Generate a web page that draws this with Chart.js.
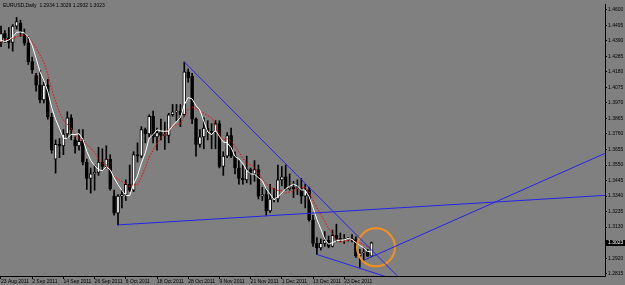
<!DOCTYPE html>
<html lang="en">
<head>
<meta charset="UTF-8">
<title>EURUSD Daily</title>
<script src="https://cdn.jsdelivr.net/npm/chart.js@4"></script>
<style>
    html, body { margin: 0; padding: 0; background: #808080; }
    #wrap { width: 625px; height: 285px; }
</style>
</head>
<body>
<div id="wrap"><canvas id="chart" width="625" height="285"></canvas></div>
<script>
// daily bars, 23 Aug 2011 .. 3 Jan 2012 (bar index = x value)
const open  = [1.4380,1.4440,1.4410,1.4380,1.4490,1.4510,1.4440,1.4375,1.4250,1.4155,
               1.4090,1.3990,1.4090,1.3875,1.3590,1.3690,1.3680,1.3760,1.3870,1.3720,
               1.3680,1.3710,1.3570,1.3460,1.3490,1.3500,1.3570,1.3540,1.3590,1.3340,
               1.3225,1.3340,1.3350,1.3420,1.3380,1.3620,1.3610,1.3790,1.3760,1.3880,
               1.3740,1.3770,1.3750,1.3750,1.3890,1.3910,1.3915,1.3890,1.4180,1.4150,
               1.3860,1.3690,1.3740,1.3800,1.3780,1.3770,1.3830,1.3540,1.3610,1.3750,
               1.3610,1.3530,1.3460,1.3450,1.3520,1.3490,1.3520,1.3340,1.3350,1.3240,
               1.3320,1.3320,1.3450,1.3470,1.3390,1.3400,1.3390,1.3390,1.3340,1.3380,
               1.3180,1.3020,1.2990,1.3020,1.3040,1.3000,1.3075,1.3050,1.3045,1.3045,
               1.3050,1.3045,1.2935,1.2955,1.2960,1.2934];
const high  = [1.4490,1.4460,1.4480,1.4500,1.4548,1.4530,1.4470,1.4420,1.4280,1.4170,
               1.4190,1.4110,1.4130,1.3900,1.3720,1.3730,1.3790,1.3910,1.3890,1.3740,
               1.3790,1.3790,1.3590,1.3530,1.3550,1.3670,1.3660,1.3680,1.3620,1.3380,
               1.3350,1.3380,1.3450,1.3550,1.3640,1.3700,1.3810,1.3800,1.3890,1.3915,
               1.3800,1.3860,1.3840,1.3900,1.3960,1.3960,1.3960,1.4247,1.4200,1.4170,
               1.3870,1.3790,1.3870,1.3850,1.3830,1.3850,1.3850,1.3640,1.3770,1.3800,
               1.3640,1.3580,1.3550,1.3610,1.3530,1.3580,1.3550,1.3400,1.3390,1.3420,
               1.3390,1.3550,1.3540,1.3550,1.3490,1.3440,1.3450,1.3460,1.3420,1.3400,
               1.3210,1.3060,1.3050,1.3100,1.3070,1.3110,1.3150,1.3090,1.3080,1.3060,
               1.3080,1.3065,1.2980,1.2990,1.2980,1.3029];
const low   = [1.4350,1.4380,1.4340,1.4320,1.4470,1.4420,1.4360,1.4230,1.4170,1.4050,
               1.3970,1.3970,1.3860,1.3630,1.3495,1.3600,1.3620,1.3730,1.3720,1.3630,
               1.3650,1.3550,1.3385,1.3360,1.3380,1.3480,1.3520,1.3530,1.3380,1.3210,
               1.3145,1.3260,1.3310,1.3370,1.3370,1.3570,1.3600,1.3700,1.3740,1.3700,
               1.3650,1.3720,1.3655,1.3700,1.3880,1.3850,1.3810,1.3880,1.4110,1.3830,
               1.3610,1.3670,1.3660,1.3720,1.3660,1.3660,1.3530,1.3480,1.3600,1.3600,
               1.3490,1.3420,1.3420,1.3430,1.3420,1.3440,1.3320,1.3310,1.3210,1.3230,
               1.3300,1.3300,1.3410,1.3380,1.3380,1.3330,1.3350,1.3290,1.3260,1.3170,
               1.3000,1.2945,1.2975,1.3000,1.2990,1.2995,1.3030,1.3030,1.3020,1.3035,
               1.3030,1.2925,1.2858,1.2905,1.2930,1.2932];
const close = [1.4440,1.4410,1.4380,1.4490,1.4520,1.4450,1.4375,1.4250,1.4195,1.4090,
               1.3990,1.4090,1.3875,1.3650,1.3690,1.3680,1.3760,1.3870,1.3790,1.3680,
               1.3710,1.3570,1.3460,1.3490,1.3500,1.3570,1.3540,1.3590,1.3390,1.3225,
               1.3340,1.3350,1.3420,1.3380,1.3620,1.3610,1.3790,1.3760,1.3880,1.3740,
               1.3770,1.3750,1.3750,1.3890,1.3910,1.3915,1.3890,1.4180,1.4140,1.3860,
               1.3690,1.3740,1.3800,1.3780,1.3770,1.3830,1.3540,1.3610,1.3750,1.3610,
               1.3530,1.3460,1.3450,1.3520,1.3490,1.3520,1.3340,1.3350,1.3240,1.3320,
               1.3320,1.3450,1.3470,1.3390,1.3400,1.3390,1.3390,1.3340,1.3380,1.3180,
               1.3020,1.2990,1.3020,1.3040,1.3000,1.3075,1.3050,1.3045,1.3045,1.3050,
               1.3045,1.2935,1.2955,1.2960,1.2934,1.3023];
// closes of the bars just before the window, for the moving averages
const warmupClose = [1.4240,1.4430,1.4400,1.4450,1.4330,1.4390,1.4360];

const timeTickIndex  = [0, 8, 16, 24, 32, 40, 48, 56, 64, 72, 80, 88];
const timeTickLabels = ['23 Aug 2011','2 Sep 2011','14 Sep 2011','26 Sep 2011','6 Oct 2011','18 Oct 2011',
                        '28 Oct 2011','9 Nov 2011','21 Nov 2011','1 Dec 2011','13 Dec 2011','23 Dec 2011'];
const priceTicks = [1.4600,1.4495,1.4390,1.4285,1.4180,1.4075,1.3970,1.3865,1.3760,
                    1.3655,1.3550,1.3445,1.3340,1.3235,1.3130,1.3025,1.2920,1.2815];

// drawn objects: trend lines (bar index, price) and the ellipse centre
const trendStart = [[47, 1.4247], [30, 1.3145], [81, 1.2945], [93, 1.2905]];
const trendEnd   = [[102, 1.2790], [160, 1.3353], [100, 1.2784], [160, 1.3689]];
const ellipseCenter = [96.15, 1.2993];

const title = 'EURUSD,Daily  1.2934 1.3029 1.2932 1.3023';

function movingAverage(period) {
    const series = warmupClose.concat(close);
    return close.map((c, i) => {
        const end = i + warmupClose.length;
        let sum = 0;
        for (let k = end - period + 1; k <= end; k++) sum += series[k];
        return { x: i, y: sum / period };
    });
}

const tinyFont = { family: 'Liberation Sans', size: 5 };

const mt4Plugin = {
    id: 'mt4',
    beforeDraw(chart) {
        const ctx = chart.ctx;
        ctx.save();
        ctx.fillStyle = '#808080';
        ctx.fillRect(0, 0, chart.width, chart.height);
        ctx.restore();
    },
    afterDraw(chart) {
        const ctx = chart.ctx;
        const y = chart.scales.y.getPixelForValue(close[close.length - 1]);
        const left = chart.chartArea.right + 1;
        ctx.save();
        ctx.fillStyle = '#000';
        ctx.fillRect(left, Math.round(y) - 3, chart.width - left, 6);
        ctx.fillStyle = '#fff';
        ctx.font = '5px "Liberation Sans"';
        ctx.textBaseline = 'middle';
        ctx.fillText(close[close.length - 1].toFixed(4), left + 2, Math.round(y));
        ctx.fillStyle = '#000';
        ctx.fillText(title, 3, 6);
        ctx.restore();
    }
};

const trendSets = trendStart.map((p, i) => ({
    type: 'line',
    data: [{ x: p[0], y: p[1] }, { x: trendEnd[i][0], y: trendEnd[i][1] }],
    borderColor: '#2424e8',
    borderWidth: 1,
    pointRadius: 0,
    order: 0
}));

new Chart(document.getElementById('chart'), {
    type: 'bar',
    data: {
        datasets: [
            ...trendSets,
            {
                type: 'scatter',
                data: [{ x: ellipseCenter[0], y: ellipseCenter[1] }],
                pointRadius: 19,
                pointBorderWidth: 2,
                pointBorderColor: '#f5901e',
                pointBackgroundColor: 'rgba(0,0,0,0)',
                order: 0
            },
            {
                type: 'line',
                data: movingAverage(5),
                borderColor: '#ffffff',
                borderWidth: 1,
                pointRadius: 0,
                order: 1
            },
            {
                type: 'line',
                data: movingAverage(8),
                borderColor: '#ff0000',
                borderWidth: 1,
                borderDash: [1.5, 1.5],
                pointRadius: 0,
                order: 1
            },
            {
                data: open.map((o, i) => ({ x: i, y: [o, close[i]] })),
                backgroundColor: open.map((o, i) => close[i] >= o ? '#ffffff' : '#000000'),
                borderColor: '#000',
                borderWidth: 1,
                borderSkipped: false,
                barThickness: 3,
                minBarLength: 1,
                grouped: false,
                order: 2
            },
            {
                data: high.map((h, i) => ({ x: i, y: [low[i], h] })),
                backgroundColor: '#000',
                barThickness: 1,
                grouped: false,
                order: 3
            }
        ]
    },
    options: {
        responsive: false,
        animation: false,
        devicePixelRatio: 1,
        layout: { padding: 0, autoPadding: false },
        plugins: { legend: { display: false }, tooltip: { enabled: false } },
        scales: {
            x: {
                type: 'linear',
                min: -0.256,
                max: 154.87,
                offset: false,
                grid: { drawOnChartArea: false, offset: false, tickLength: 3, color: '#000' },
                border: { color: '#000' },
                afterBuildTicks: s => { s.ticks = timeTickIndex.map(v => ({ value: v })); },
                afterFit: s => { s.height = 9; },
                ticks: {
                    autoSkip: false,
                    maxRotation: 0,
                    align: 'start',
                    padding: 0,
                    color: '#000',
                    font: tinyFont,
                    callback: v => timeTickLabels[timeTickIndex.indexOf(v)]
                }
            },
            y: {
                type: 'linear',
                position: 'right',
                min: 1.27993,
                max: 1.46393,
                beginAtZero: false,
                grid: { drawOnChartArea: false, tickLength: 2, color: '#000' },
                border: { color: '#000' },
                afterBuildTicks: s => { s.ticks = priceTicks.map(v => ({ value: v })); },
                afterFit: s => { s.width = 20; },
                ticks: {
                    padding: 1,
                    color: '#000',
                    font: tinyFont,
                    callback: v => v.toFixed(4)
                }
            }
        }
    },
    plugins: [mt4Plugin]
});
</script>
</body>
</html>
